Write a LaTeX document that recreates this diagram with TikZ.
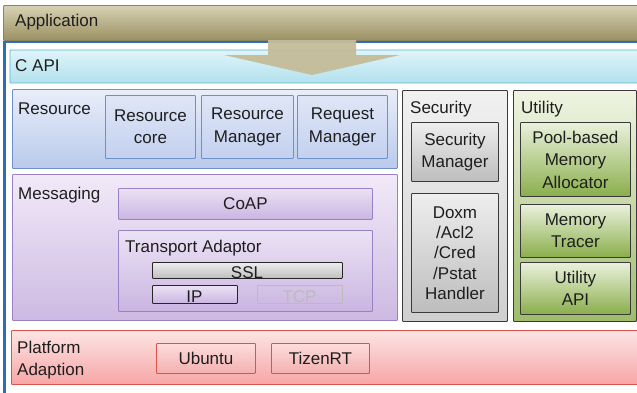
\documentclass[tikz,border=0pt]{standalone}
\usepackage{fontspec}
\setmainfont{Liberation Sans}
\definecolor{txt}{HTML}{1E1E1E}
\definecolor{appT}{HTML}{D8D2B4}
\definecolor{appB}{HTML}{9A9062}
\definecolor{appD}{HTML}{8C8460}
\definecolor{frameblue}{HTML}{2F6EB5}
\definecolor{capiT}{HTML}{E0F4F9}
\definecolor{capiB}{HTML}{B2E1ED}
\definecolor{capiD}{HTML}{5AB6CB}
\definecolor{resT}{HTML}{E9EEF9}
\definecolor{resB}{HTML}{B9CAEC}
\definecolor{resD}{HTML}{6E90CA}
\definecolor{resIT}{HTML}{DFE6F7}
\definecolor{resIB}{HTML}{C3D1EF}
\definecolor{msgT}{HTML}{F1EAF8}
\definecolor{msgB}{HTML}{CDB9E2}
\definecolor{msgD}{HTML}{9A80C4}
\definecolor{msgIT}{HTML}{EBE2F5}
\definecolor{msgIB}{HTML}{CAB5E1}
\definecolor{secT}{HTML}{F1F1F1}
\definecolor{secB}{HTML}{CFCFCF}
\definecolor{secD}{HTML}{3A3A3A}
\definecolor{secIT}{HTML}{EEEEEE}
\definecolor{secIB}{HTML}{BDBDBD}
\definecolor{utilT}{HTML}{EFF4E2}
\definecolor{utilB}{HTML}{9EBB6A}
\definecolor{utilIT}{HTML}{EAF1DC}
\definecolor{utilIB}{HTML}{8AAE4B}
\definecolor{platT}{HTML}{FDE4E4}
\definecolor{platB}{HTML}{F7A6A6}
\definecolor{platD}{HTML}{D9544F}
\definecolor{platIT}{HTML}{FDDCDC}
\definecolor{platIB}{HTML}{F4B0B0}
\definecolor{arrowc}{HTML}{C4BC98}
\definecolor{tcpc}{HTML}{BBBBBB}
\begin{document}
\begin{tikzpicture}[x=1pt,y=-1pt,
  font=\fontsize{17}{22.5}\selectfont,
  box/.style={draw, rounded corners=0.8pt, line width=0.9pt, anchor=north west,
    inner sep=0pt, align=center, text=txt},
  lbl/.style={anchor=west, inner sep=0pt, text=txt, align=left},
  appbox/.style={box, draw=appD, top color=appT, bottom color=appB},
  capibox/.style={box, draw=capiD, top color=capiT, bottom color=capiB},
  resbox/.style={box, draw=resD, top color=resT, bottom color=resB},
  resin/.style={box, draw=resD, top color=resIT, bottom color=resIB},
  msgbox/.style={box, draw=msgD, top color=msgT, bottom color=msgB},
  msgin/.style={box, draw=msgD, top color=msgIT, bottom color=msgIB},
  sslbox/.style={box, draw=black!85, top color=secIT, bottom color=secIB},
  secbox/.style={box, draw=secD, top color=secT, bottom color=secB},
  secin/.style={box, draw=secD, top color=secIT, bottom color=secIB},
  utilbox/.style={box, draw=secD, top color=utilT, bottom color=utilB},
  utilin/.style={box, draw=secD, top color=utilIT, bottom color=utilIB},
  platbox/.style={box, draw=platD, top color=platT, bottom color=platB},
  platin/.style={box, draw=platD, top color=platIT, bottom color=platIB},
]
\useasboundingbox (0,0) rectangle (637,392);
\clip (0,0) rectangle (637,392);

% outer frame (only its left and top sides are visible)
\coordinate (frameBL) at (4.3,400);
\coordinate (frameTL) at (4.3,42);
\coordinate (frameTR) at (650,42);
\draw[frameblue, line width=2.6pt] (frameBL) -- (frameTL) -- (frameTR);

% application
\node[appbox, minimum width=660pt, minimum height=35pt] (app) at (3,5) {};
\node[lbl] (applbl) at (15,22.5) {Application};

% C API
\node[capibox, minimum width=660pt, minimum height=33pt] (capi) at (9.5,49.5) {};
\node[lbl] (capilbl) at (15,66) {C API};

% arrow
\fill[arrowc, opacity=0.95] (268,40) -- (356,40) -- (356,55) -- (400,55) -- (312,75)
  -- (224,55) -- (268,55) -- cycle;

% Resource
\node[resbox, minimum width=385pt, minimum height=79pt] (res) at (12,89) {};
\node[lbl] (reslbl) at (18,109) {Resource};
\node[resin, minimum width=90pt, minimum height=63pt] (rcore) at (105,95) {Resource\\core};
\node[resin, minimum width=92pt, minimum height=63pt] (rman) at (201,95) {Resource\\Manager};
\node[resin, minimum width=90pt, minimum height=63pt] (reqman) at (297,95) {Request\\Manager};

% Messaging
\node[msgbox, minimum width=385pt, minimum height=146pt] (msg) at (12,174) {};
\node[lbl] (msglbl) at (18,195) {Messaging};
\node[msgin, minimum width=254pt, minimum height=31pt] (coap) at (118,188) {CoAP};
\node[msgin, minimum width=254pt, minimum height=81pt] (tadp) at (118,230) {};
\node[lbl] (tadplbl) at (125,248) {Transport Adaptor};
\node[sslbox, minimum width=190pt, minimum height=16pt] (ssl) at (152,262) {};
\node[inner sep=0pt, text=txt] (ssltxt) at (247,273) {SSL};
\node[msgin, draw=black!85, minimum width=85pt, minimum height=18pt] (ip) at (152,285) {};
\node[inner sep=0pt, text=txt] (iptxt) at (194.5,296.5) {IP};
\node[box, draw=tcpc, fill=none, minimum width=85pt, minimum height=18pt] (tcp) at (257,285) {};
\node[inner sep=0pt, text=tcpc] (tcptxt) at (299.5,296.5) {TCP};

% Security
\node[secbox, minimum width=105pt, minimum height=231pt] (sec) at (402,90) {};
\node[lbl] (seclbl) at (410,109) {Security};
\node[secin, minimum width=87pt, minimum height=59pt] (secman) at (411,122) {Security\\Manager};
\node[secin, minimum width=87pt, minimum height=119pt, font=\fontsize{17}{20.3}\selectfont]
  (doxm) at (411,193) {Doxm\\/Acl2\\/Cred\\/Pstat\\Handler};

% Utility
\node[utilbox, minimum width=123pt, minimum height=231pt] (util) at (513,90) {};
\node[lbl] (utillbl) at (521,109) {Utility};
\node[utilin, minimum width=110pt, minimum height=74pt] (pool) at (520,122) {Pool-based\\Memory\\Allocator};
\node[utilin, minimum width=110pt, minimum height=53pt] (mtrace) at (520,204) {Memory\\Tracer};
\node[utilin, minimum width=110pt, minimum height=52pt] (uapi) at (520,262) {Utility\\API};

% Platform
\node[platbox, minimum width=660pt, minimum height=54pt] (plat) at (11,330) {};
\node[lbl] (platlbl) at (17,360) {Platform\\Adaption};
\node[platin, minimum width=99pt, minimum height=30pt] (ubuntu) at (156,343) {Ubuntu};
\node[platin, minimum width=98pt, minimum height=30pt] (tizen) at (271,343) {TizenRT};
\end{tikzpicture}
\end{document}
